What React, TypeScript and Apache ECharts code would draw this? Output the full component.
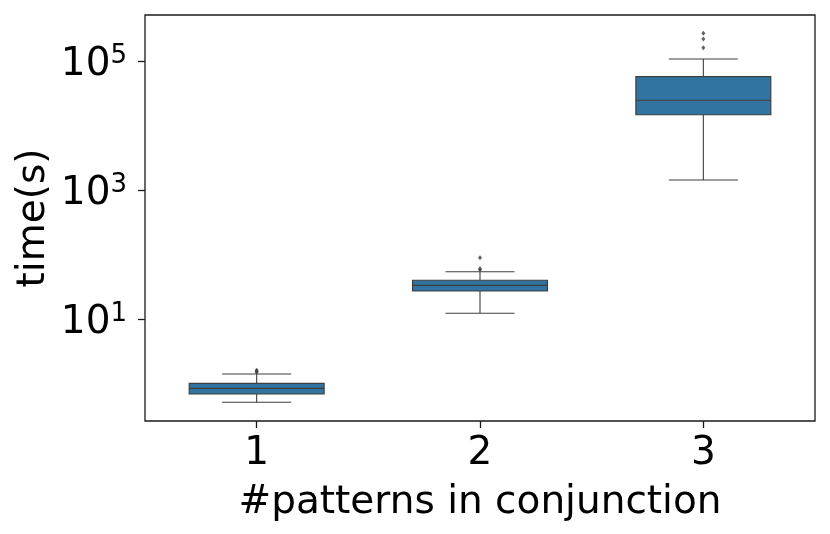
import React, { useEffect, useRef } from 'react';
import * as echarts from 'echarts';

const categories = ['1', '2', '3'];
const whiskerLow = [0.514, 12.4, 1455];
const q1 = [0.692, 27.5, 15000];
const median = [0.849, 33.7, 25200];
const q3 = [1.014, 40.4, 58500];
const whiskerHigh = [1.415, 54.8, 110000];
const outliers = [
  [0, 1.5], [0, 1.56], [0, 1.62],
  [1, 59], [1, 61], [1, 90.5],
  [2, 165000], [2, 225000], [2, 276000],
];
const yTickValues = [10, 1000, 100000];
const yMin = 0.2636;
const yMax = 531000;

const FONT = 'DejaVu Sans';
const BOX_FILL = '#3274a1';
const EDGE = '#3f3f3f';

export default function App() {
  const ref = useRef<HTMLDivElement>(null);
  useEffect(() => {
    if (!ref.current) return;
    const chart = echarts.init(ref.current, null, { renderer: 'svg' });
    const boxData = categories.map((_, i) => [i, whiskerLow[i], q1[i], median[i], q3[i], whiskerHigh[i]]);
    chart.setOption({
      animation: false,
      grid: {
        left: 145, right: 15, top: 15, bottom: 113,
        show: true, borderColor: '#1a1a1a', borderWidth: 1.3, backgroundColor: 'transparent',
      },
      xAxis: {
        type: 'category',
        data: categories,
        boundaryGap: true,
        name: '#patterns in conjunction',
        nameLocation: 'middle',
        nameGap: 59,
        nameTextStyle: { fontFamily: FONT, fontSize: 39, color: '#000' },
        axisLine: { show: false },
        axisTick: { show: true, alignWithLabel: true, length: 7, lineStyle: { color: '#1a1a1a', width: 1.3 } },
        axisLabel: { fontFamily: FONT, fontSize: 39, color: '#000', margin: 10 },
        splitLine: { show: false },
      },
      yAxis: {
        type: 'log',
        logBase: 10,
        min: yMin,
        max: yMax,
        name: 'time(s)',
        nameLocation: 'middle',
        nameGap: 93,
        nameRotate: 90,
        nameTextStyle: { fontFamily: FONT, fontSize: 39, color: '#000' },
        axisLine: { show: false },
        axisTick: { show: true, length: 7, customValues: yTickValues, lineStyle: { color: '#1a1a1a', width: 1.3 } },
        minorTick: { show: false },
        splitLine: { show: false },
        axisLabel: {
          customValues: yTickValues,
          margin: 18,
          formatter: (v: number) => `{b|10}{s|${Math.round(Math.log10(v))}}`,
          rich: {
            b: { fontFamily: FONT, fontSize: 39, color: '#000', lineHeight: 41 },
            s: { fontFamily: FONT, fontSize: 26, color: '#000', verticalAlign: 'top' },
          },
        },
      },
      series: [
        {
          type: 'custom',
          data: boxData,
          encode: { x: 0, y: [1, 2, 3, 4, 5] },
          renderItem: (params: any, api: any) => {
            const x = api.value(0);
            const band = params.coordSys.width / categories.length;
            const bw = band * 0.604;
            const cw = band * 0.309;
            const pLo = api.coord([x, api.value(1)]);
            const pQ1 = api.coord([x, api.value(2)]);
            const pMed = api.coord([x, api.value(3)]);
            const pQ3 = api.coord([x, api.value(4)]);
            const pHi = api.coord([x, api.value(5)]);
            const cx = pMed[0];
            const lineStyle = { stroke: EDGE, lineWidth: 1.1 };
            return {
              type: 'group',
              children: [
                { type: 'line', shape: { x1: cx, y1: pQ1[1], x2: cx, y2: pLo[1] }, style: lineStyle },
                { type: 'line', shape: { x1: cx, y1: pQ3[1], x2: cx, y2: pHi[1] }, style: lineStyle },
                { type: 'line', shape: { x1: cx - cw / 2, y1: pLo[1], x2: cx + cw / 2, y2: pLo[1] }, style: lineStyle },
                { type: 'line', shape: { x1: cx - cw / 2, y1: pHi[1], x2: cx + cw / 2, y2: pHi[1] }, style: lineStyle },
                {
                  type: 'rect',
                  shape: { x: cx - bw / 2, y: pQ3[1], width: bw, height: pQ1[1] - pQ3[1] },
                  style: { fill: BOX_FILL, stroke: EDGE, lineWidth: 1.2 },
                },
                { type: 'line', shape: { x1: cx - bw / 2, y1: pMed[1], x2: cx + bw / 2, y2: pMed[1] }, style: { stroke: EDGE, lineWidth: 1.2 } },
              ],
            };
          },
        },
        {
          type: 'scatter',
          data: outliers,
          symbol: 'diamond',
          symbolSize: [4, 5],
          itemStyle: { color: EDGE },
        },
      ],
    });
    return () => chart.dispose();
  }, []);
  return <div ref={ref} style={{ position: 'fixed', left: 0, top: 0, width: 830, height: 534 }} />;
}
